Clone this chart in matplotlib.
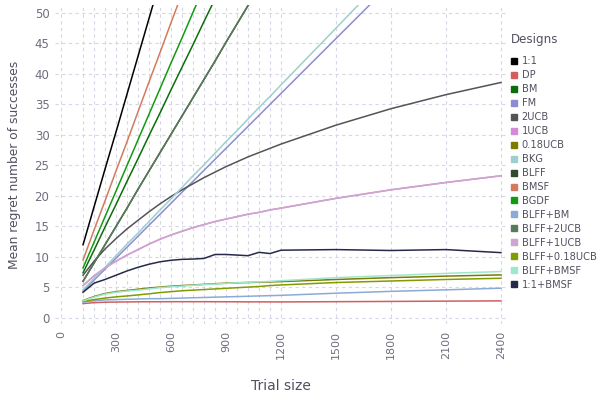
"""Mean regret against trial size for the response-adaptive designs."""

import matplotlib

matplotlib.use("Agg")

import matplotlib.pyplot as plt
from matplotlib.lines import Line2D

TRIAL_SIZES = [120, 180, 240, 300, 360, 420, 480, 540, 600, 660, 720, 780,
               840, 900, 960, 1020, 1080, 1140, 1200, 1500, 1800, 2100, 2400]

DESIGNS = ["1:1", "DP", "BM", "FM", "2UCB", "1UCB", "0.18UCB", "BKG", "BLFF",
           "BMSF", "BGDF", "BLFF+BM", "BLFF+2UCB", "BLFF+1UCB", "BLFF+0.18UCB",
           "BLFF+BMSF", "1:1+BMSF"]

COLORS = ["#000000", "#d05f5f", "#0a6e0a", "#8c8cd2", "#545454", "#d48ad4",
          "#7d7a00", "#9ccfcf", "#2f4a2f", "#d47a5c", "#129a12", "#8caad6",
          "#587a58", "#cda5cd", "#809c00", "#9de8cc", "#262a48"]

REGRET_1_1 = [12.0, 18.2, 24.4, 30.5, 36.7, 42.9, 49.1, 55.3, 61.4, 67.6, 73.8, 80.0,
              86.2, 92.3, 98.5, 104.7, 110.9, 117.1, 123.2, 154.1, 185.0, 215.9, 246.8]
REGRET_DP = [2.35, 2.5, 2.57, 2.6, 2.62, 2.64, 2.65, 2.65, 2.66, 2.66, 2.66, 2.66,
             2.65, 2.65, 2.64, 2.63, 2.63, 2.62, 2.62, 2.66, 2.7, 2.75, 2.79]
REGRET_BM = [7.4, 11.1, 14.9, 18.6, 22.4, 26.1, 29.9, 33.6, 37.4, 41.1, 44.8, 48.6,
             52.3, 56.1, 59.8, 63.6, 67.3, 71.1, 74.8, 93.5, 112.2, 131.0, 149.7]
REGRET_FM = [4.4, 6.2, 8.0, 9.8, 11.6, 13.4, 15.2, 17.0, 18.8, 20.6, 22.4, 24.2,
             26.0, 27.8, 29.6, 31.4, 33.2, 35.0, 36.8, 45.8, 54.8, 63.8, 72.8]
REGRET_2UCB = [7.0, 9.3, 11.3, 13.0, 14.6, 16.0, 17.4, 18.7, 19.9, 21.0, 22.0, 23.0,
               23.9, 24.8, 25.6, 26.4, 27.1, 27.8, 28.5, 31.6, 34.3, 36.6, 38.6]
REGRET_1UCB = [5.3, 6.9, 8.2, 9.3, 10.3, 11.2, 12.1, 12.9, 13.6, 14.2, 14.8, 15.3,
               15.8, 16.2, 16.6, 17.0, 17.3, 17.7, 18.0, 19.6, 21.0, 22.2, 23.3]
REGRET_018UCB = [2.85, 3.5, 4.0, 4.3, 4.5, 4.7, 4.9, 5.05, 5.2, 5.3, 5.4, 5.5,
                 5.6, 5.7, 5.75, 5.8, 5.85, 5.9, 5.95, 6.3, 6.6, 6.85, 7.05]
REGRET_BKG = [4.6, 6.5, 8.3, 10.2, 12.1, 13.9, 15.8, 17.7, 19.5, 21.4, 23.3, 25.1,
              27.0, 28.9, 30.7, 32.6, 34.5, 36.3, 38.2, 47.5, 56.9, 66.2, 75.5]
REGRET_BLFF = [6.0, 9.0, 12.0, 15.0, 18.0, 21.1, 24.1, 27.1, 30.1, 33.1, 36.1, 39.1,
               42.1, 45.2, 48.2, 51.2, 54.2, 57.2, 60.2, 75.3, 90.3, 105.4, 120.5]
REGRET_BMSF = [9.5, 14.4, 19.2, 24.1, 28.9, 33.8, 38.7, 43.5, 48.4, 53.2, 58.1, 63.0,
               67.8, 72.7, 77.5, 82.4, 87.3, 92.1, 97.0, 121.3, 145.6, 169.9, 194.2]
REGRET_BGDF = [8.2, 12.4, 16.6, 20.8, 25.0, 29.2, 33.4, 37.6, 41.8, 45.9, 50.1, 54.3,
               58.5, 62.7, 66.9, 71.1, 75.3, 79.5, 83.7, 104.7, 125.6, 146.6, 167.6]
REGRET_BLFF_BM = [2.6, 2.8, 2.95, 3.0, 3.05, 3.1, 3.15, 3.15, 3.2, 3.25, 3.3, 3.35,
                  3.4, 3.45, 3.5, 3.55, 3.6, 3.65, 3.7, 4.05, 4.35, 4.6, 4.87]
REGRET_BLFF_2UCB = REGRET_BLFF
REGRET_BLFF_1UCB = REGRET_1UCB
REGRET_BLFF_018UCB = [2.7, 3.0, 3.25, 3.45, 3.6, 3.77, 3.95, 4.15, 4.3, 4.45, 4.55, 4.65,
                      4.75, 4.85, 4.95, 5.05, 5.15, 5.3, 5.4, 5.8, 6.05, 6.3, 6.5]
REGRET_BLFF_BMSF = [2.8, 3.4, 3.9, 4.2, 4.4, 4.55, 4.75, 4.95, 5.1, 5.2, 5.35, 5.45,
                    5.55, 5.65, 5.75, 5.85, 5.9, 6.0, 6.1, 6.6, 6.95, 7.3, 7.6]
REGRET_1_1_BMSF = [4.2, 5.7, 6.3, 7.0, 7.7, 8.3, 8.8, 9.2, 9.45, 9.6, 9.65, 9.75,
                   10.4, 10.4, 10.3, 10.2, 10.75, 10.55, 11.1, 11.2, 11.05, 11.2, 10.7]

REGRET = [REGRET_1_1, REGRET_DP, REGRET_BM, REGRET_FM, REGRET_2UCB, REGRET_1UCB,
          REGRET_018UCB, REGRET_BKG, REGRET_BLFF, REGRET_BMSF, REGRET_BGDF,
          REGRET_BLFF_BM, REGRET_BLFF_2UCB, REGRET_BLFF_1UCB, REGRET_BLFF_018UCB,
          REGRET_BLFF_BMSF, REGRET_1_1_BMSF]

MAJOR_TICKS = [0, 300, 600, 900, 1200, 1500, 1800, 2100, 2400]
Y_TICKS = [0, 5, 10, 15, 20, 25, 30, 35, 40, 45, 50]

TICK_GREY = "#6e6e7e"
LABEL_GREY = "#505060"
GRID = "#d6d6e6"


def main():
    plt.rcParams["font.family"] = ["DejaVu Sans"]
    fig = plt.figure(figsize=(5.98, 3.99), dpi=100)
    ax = fig.add_axes([55 / 598, 75 / 399, 452 / 598, 319 / 399])

    for name, color, values in zip(DESIGNS, COLORS, REGRET):
        ax.plot(TRIAL_SIZES, values, color=color, linewidth=1.1, label=name)

    ax.set_xlim(-33, 2433)
    ax.set_ylim(-1.0, 51.3)
    ax.set_xticks(MAJOR_TICKS)
    ax.set_xticks([0] + TRIAL_SIZES, minor=True)
    ax.set_yticks(Y_TICKS)
    ax.grid(True, which="both", axis="x", color=GRID, linestyle=(0, (3, 3)), linewidth=0.8)
    ax.grid(True, which="major", axis="y", color=GRID, linestyle=(0, (3, 3)), linewidth=0.8)
    ax.set_axisbelow(True)
    for spine in ax.spines.values():
        spine.set_visible(False)
    ax.tick_params(which="both", length=0)
    ax.tick_params(axis="x", labelrotation=90, labelsize=8, colors=TICK_GREY, pad=5)
    ax.tick_params(axis="y", labelsize=8.5, colors=TICK_GREY, pad=4)

    ax.set_xlabel("Trial size", fontsize=10, color=LABEL_GREY, labelpad=14)
    ax.set_ylabel("Mean regret number of successes", fontsize=8.8, color=LABEL_GREY, labelpad=10)

    # legend title placed by hand so the gap to the first entry matches
    fig.text(511 / 598, 1 - 39 / 399, "Designs", fontsize=8.6, color=LABEL_GREY,
             ha="left", va="center")
    handles = [Line2D([], [], marker="s", linestyle="none", markersize=5, color=c) for c in COLORS]
    legend = fig.legend(
        handles, DESIGNS, loc="upper left", bbox_to_anchor=(510 / 598, 1 - 56.5 / 399),
        frameon=False, fontsize=7.1, handlelength=0.8, handletextpad=0.38,
        labelspacing=0.40, borderaxespad=0, borderpad=0,
    )
    for text in legend.get_texts():
        text.set_color(LABEL_GREY)

    fig.savefig("out.png", dpi=100)
    plt.close(fig)


if __name__ == "__main__":
    main()
